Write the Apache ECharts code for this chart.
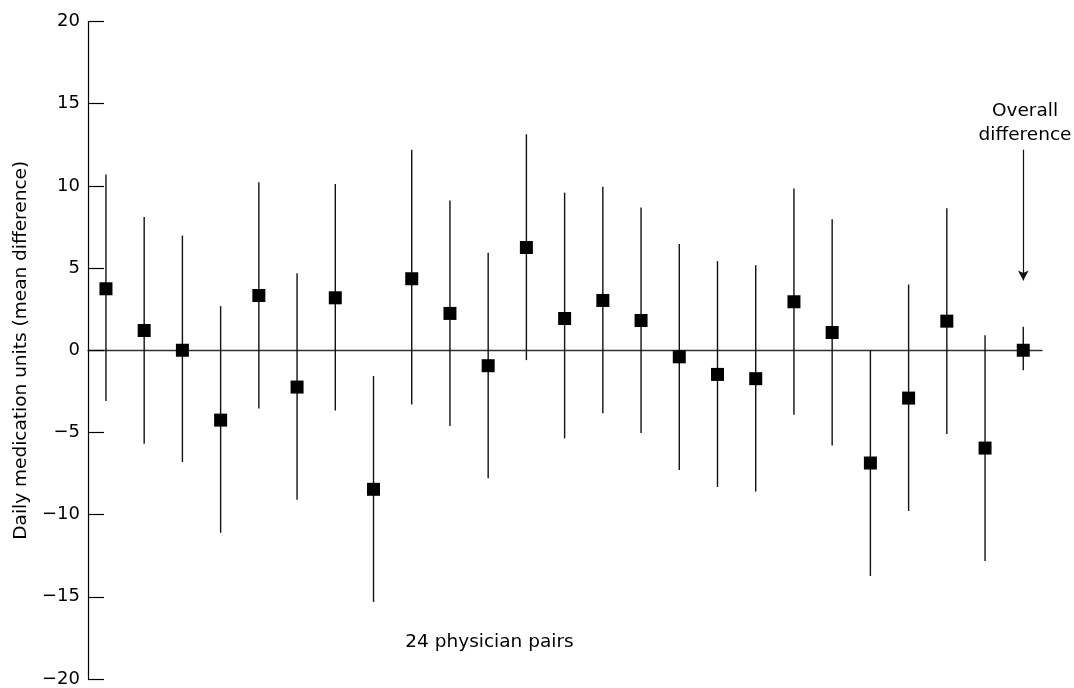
<!DOCTYPE html>
<html>
<head>
<meta charset="utf-8">
<script src="https://cdn.jsdelivr.net/npm/echarts@6/dist/echarts.min.js"></script>
<style>
  html, body { margin: 0; padding: 0; background: #fff; }
  #chart { width: 1074px; height: 688px; }
</style>
</head>
<body>
<div id="chart"></div>
<script>
// 24 physician pairs: mean difference and interval ends
const pairMeans = [3.74, 1.2, 0.0, -4.25, 3.33, -2.24, 3.19, -8.46, 4.35, 2.24, -0.94, 6.25,
  1.93, 3.03, 1.81, -0.4, -1.47, -1.73, 2.95, 1.08, -6.86, -2.91, 1.77, -5.95]
const pairUpper = [10.69, 8.11, 6.98, 2.68, 10.22, 4.69, 10.12, -1.57, 12.2, 9.11, 5.93, 13.14,
  9.59, 9.94, 8.68, 6.47, 5.42, 5.17, 9.84, 7.97, 0.0, 4.0, 8.64, 0.92]
const pairLower = [-3.09, -5.69, -6.8, -11.1, -3.54, -9.09, -3.66, -15.31, -3.3, -4.61, -7.79, -0.6,
  -5.36, -3.84, -5.04, -7.29, -8.32, -8.6, -3.92, -5.79, -13.73, -9.78, -5.1, -12.82]

// overall difference, drawn as the 25th position
const overallMean = 0.0
const overallUpper = 1.43
const overallLower = -1.21

// annotation arrow (start / tip, in y units)
const arrowFrom = 12.2
const arrowTo = 4.25

const yTicks = { min: -20, max: 20, interval: 5 }

const FONT = 'DejaVu Sans'

const means = pairMeans.concat([overallMean])
const upper = pairUpper.concat([overallUpper])
const lower = pairLower.concat([overallLower])
const points = means.map((m, i) => [i + 1, m])
const bars = means.map((m, i) => [i + 1, lower[i], upper[i]])
const overallX = means.length

const chart = echarts.init(document.getElementById('chart'), null, { renderer: 'canvas' })

const options = {
  backgroundColor: '#fff',
  animation: false,
  grid: { left: 88, right: 32, top: 21.5, bottom: 7.7, containLabel: false },
  xAxis: {
    type: 'value',
    min: 0.53,
    max: 25.49,
    axisLine: { show: true, onZero: true, lineStyle: { color: '#333', width: 1.4 } },
    axisTick: { show: false },
    axisLabel: { show: false },
    splitLine: { show: false }
  },
  yAxis: {
    type: 'value',
    min: yTicks.min,
    max: yTicks.max,
    interval: yTicks.interval,
    name: 'Daily medication units (mean difference)',
    nameLocation: 'middle',
    nameRotate: 90,
    nameGap: 54,
    nameTextStyle: { fontFamily: FONT, fontSize: 18.5, color: '#000' },
    axisLine: { show: true, onZero: false, lineStyle: { color: '#000', width: 1.2 } },
    axisTick: { show: true, inside: true, length: 16, lineStyle: { color: '#000', width: 1.2 } },
    axisLabel: {
      margin: 8,
      fontFamily: FONT,
      fontSize: 18,
      color: '#000',
      formatter: (v) => String(v).replace('-', '\u2212')
    },
    splitLine: { show: false }
  },
  graphic: [
    {
      type: 'text',
      x: 1025,
      y: 100,
      style: {
        text: 'Overall\ndifference',
        align: 'center',
        verticalAlign: 'top',
        lineHeight: 23.3,
        fontFamily: FONT,
        fontSize: 18.5,
        fill: '#000'
      }
    },
    {
      type: 'text',
      x: 489.5,
      y: 642,
      style: {
        text: '24 physician pairs',
        align: 'center',
        verticalAlign: 'middle',
        fontFamily: FONT,
        fontSize: 18.5,
        fill: '#000'
      }
    }
  ],
  series: [
    {
      // 误差线
      type: 'custom',
      data: bars,
      z: 2,
      renderItem: (params, api) => {
        const x = api.value(0)
        const p1 = api.coord([x, api.value(1)])
        const p2 = api.coord([x, api.value(2)])
        return {
          type: 'line',
          shape: { x1: p1[0], y1: p1[1], x2: p2[0], y2: p2[1] },
          style: { stroke: '#111', lineWidth: 1.4 }
        }
      },
      encode: { x: 0, y: [1, 2] },
      silent: true
    },
    {
      type: 'scatter',
      data: points,
      symbol: 'rect',
      symbolSize: 13,
      itemStyle: { color: '#000', opacity: 1 },
      z: 3,
      silent: true,
      markLine: {
        silent: true,
        symbol: ['none', 'arrow'],
        symbolSize: [8, 10],
        label: { show: false },
        lineStyle: { color: '#111', width: 1.2, type: 'solid' },
        data: [[{ coord: [overallX, arrowFrom] }, { coord: [overallX, arrowTo] }]]
      }
    }
  ]
}

chart.setOption(options)
</script>
</body>
</html>
